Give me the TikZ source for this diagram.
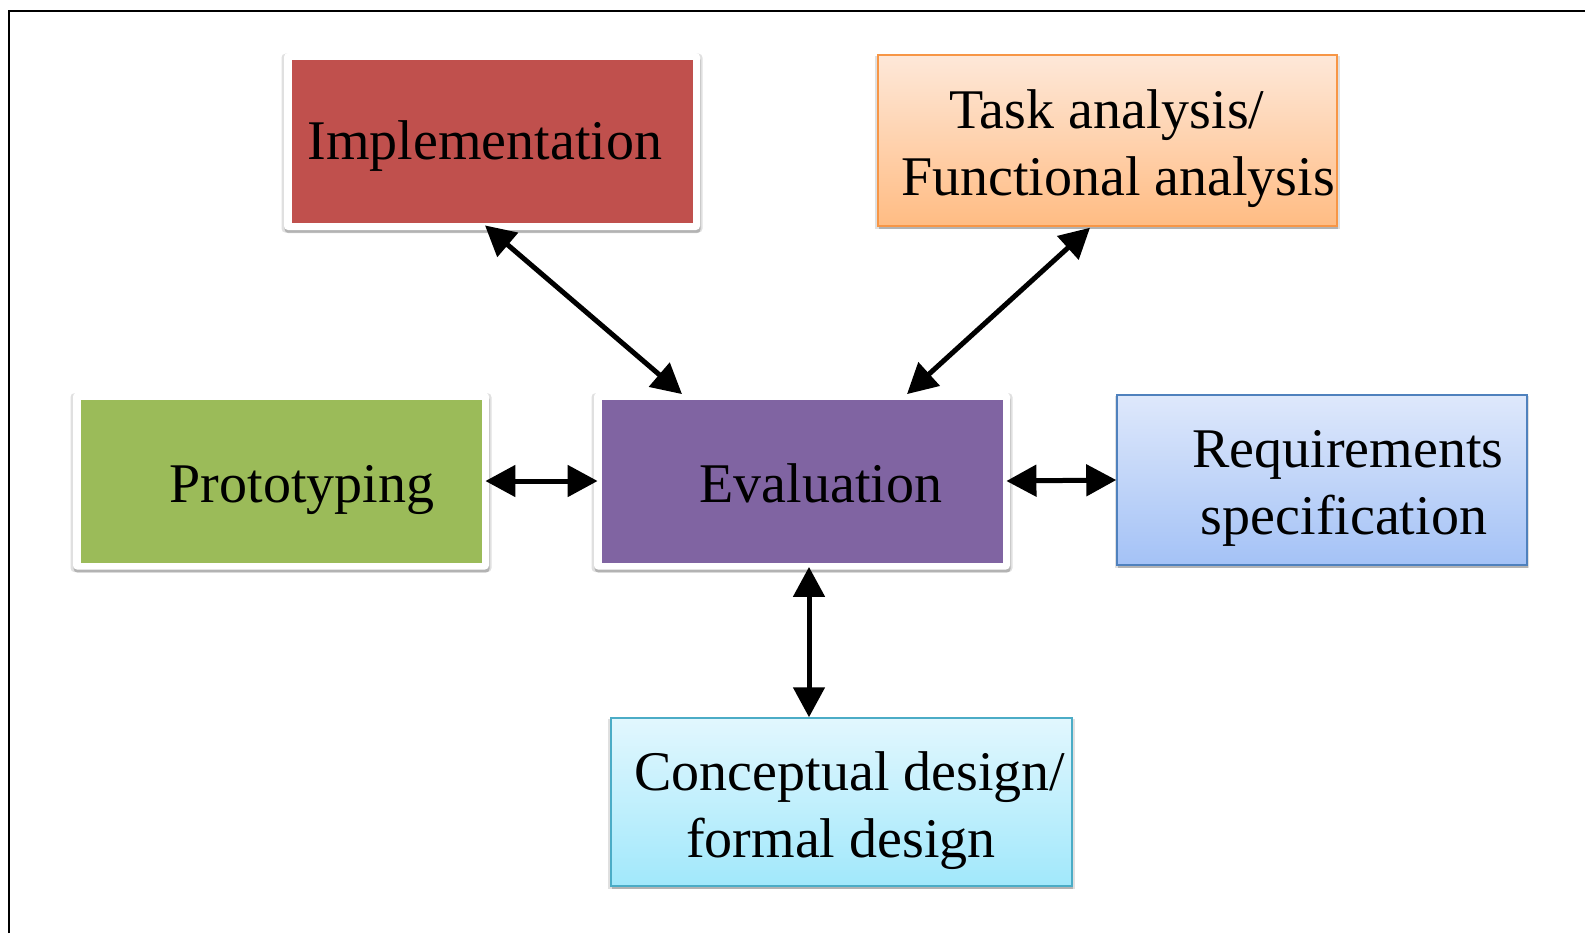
\documentclass[tikz,border=0pt]{standalone}
\usepackage{fontspec}
\setmainfont{Liberation Serif}
\usetikzlibrary{arrows.meta,calc,shadows}
\definecolor{implred}{HTML}{C0504D}
\definecolor{evalpurple}{HTML}{8064A2}
\definecolor{protogreen}{HTML}{9BBB59}
\definecolor{tasktop}{HTML}{FEE8D9}
\definecolor{taskbot}{HTML}{FFBC83}
\definecolor{taskline}{HTML}{F79646}
\definecolor{reqtop}{HTML}{DEE8FB}
\definecolor{reqbot}{HTML}{A4C2F6}
\definecolor{reqline}{HTML}{4F81BD}
\definecolor{conctop}{HTML}{E2F7FE}
\definecolor{concbot}{HTML}{A1E8FB}
\definecolor{concline}{HTML}{4BACC6}
\begin{document}
\begin{tikzpicture}[x=0.5pt,y=-0.5pt,
  softshadow/.style={
    drop shadow={shadow xshift=0pt, shadow yshift=-0.8pt, shadow scale=1.012, opacity=0.12, fill=black},
    drop shadow={shadow xshift=0.3pt, shadow yshift=-1.6pt, opacity=0.2, fill=black}},
  whiteframe/.style={draw=none, fill=white, rounded corners=2pt, inner sep=0pt,
    minimum width=208pt, minimum height=88.5pt, softshadow},
  inset/.style={draw=none, inner sep=0pt, minimum width=200.5pt, minimum height=81.5pt},
  gradbox/.style={line width=0.75pt, inner sep=0pt, softshadow},
  txt/.style={font=\fontsize{28pt}{33.5pt}\selectfont, inner sep=0pt, anchor=base},
  link/.style={line width=2.5pt, {Triangle[length=15pt,width=15.5pt]}-{Triangle[length=15pt,width=15.5pt]}}
]
\useasboundingbox (0,0) rectangle (1585,933);
\fill[white] (0,0) rectangle (1585,933);
\draw[line width=1pt] (8.5,933) -- (8.5,10.5) -- (1585,10.5);

% framed boxes
\node[whiteframe] (impl) at (492,141.5) {};
\node[inset, fill=implred] (impl-in) at (impl.center) {};
\node[whiteframe] (eval) at (802,481) {};
\node[inset, fill=evalpurple] (eval-in) at (eval.center) {};
\node[whiteframe] (proto) at (281,481) {};
\node[inset, fill=protogreen] (proto-in) at (proto.center) {};

% gradient boxes
\node[gradbox, draw=taskline, top color=tasktop, bottom color=taskbot,
  minimum width=229.5pt, minimum height=85.5pt] (task) at (1107.5,140.5) {};
\node[gradbox, draw=reqline, top color=reqtop, bottom color=reqbot,
  minimum width=205pt, minimum height=85pt] (req) at (1322,480) {};
\node[gradbox, draw=concline, top color=conctop, bottom color=concbot,
  minimum width=230.5pt, minimum height=84pt] (conc) at (841.5,802) {};

% texts
\node[txt] (impl-t) at (485,159) {Implementation};
\node[txt] (eval-t) at (821,502) {Evaluation};
\node[txt] (proto-t) at (302,502) {Prototyping};
\node[txt] (task-t1) at (1107,128) {Task analysis/};
\node[txt] (task-t2) at (1118,195) {Functional analysis};
\node[txt] (req-t1) at (1348,467) {Requirements};
\node[txt] (req-t2) at (1344,534) {specification};
\node[txt] (conc-t1) at (850,790) {Conceptual design/};
\node[txt] (conc-t2) at (841,857) {formal design};

% connectors
\draw[link] ($(impl.south)+(-7,-5)$) -- ($(eval.north)+(-120,2)$);
\draw[link] ($(task.south)+(-17.5,1)$) -- ($(eval.north)+(105,2)$);
\draw[link] ($(proto.east)+(-4,0)$) -- ($(eval.west)+(4,0)$);
\draw[link] ($(eval.east)+(-4,0)$) -- (req.west);
\draw[link] ($(eval.south)+(7,-3)$) -- ($(conc.north)+(-32.5,0)$);
\end{tikzpicture}
\end{document}
